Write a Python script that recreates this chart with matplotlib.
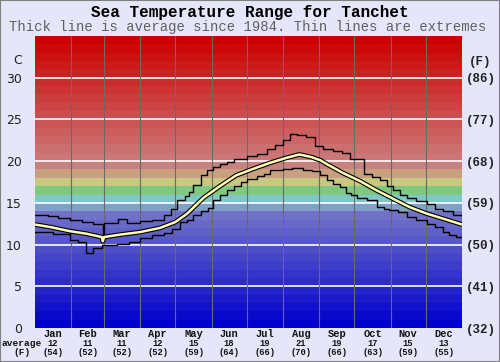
import matplotlib
matplotlib.use('Agg')
import matplotlib.pyplot as plt
import matplotlib.transforms as mtrans
from matplotlib.patches import Rectangle
import numpy as np

# ---------------- data ----------------
months = ['Jan', 'Feb', 'Mar', 'Apr', 'May', 'Jun', 'Jul', 'Aug', 'Sep', 'Oct', 'Nov', 'Dec']
month_days = [31, 28, 31, 30, 31, 30, 31, 31, 30, 31, 30, 31]
avg_c = [12, 11, 11, 12, 15, 18, 19, 21, 19, 17, 15, 13]
avg_f = [54, 52, 52, 52, 59, 64, 66, 70, 66, 63, 59, 55]
c_ticks = [0, 5, 10, 15, 20, 25, 30]
f_labels = ['(32)', '(41)', '(50)', '(59)', '(68)', '(77)', '(86)']

avg_day = [0, 13, 30, 44, 57, 58, 59, 73, 90, 107, 120, 130, 144, 158, 172, 187, 201, 215, 226, 236,
           244, 250, 263, 278, 292, 306, 320, 335, 349, 365]
avg_temp = [12.4, 12.1, 11.6, 11.3, 10.9, 10.4, 10.9, 11.2, 11.5, 12.0, 12.7, 13.7, 15.6, 17.0, 18.3,
            19.1, 19.8, 20.4, 20.8, 20.5, 20.1, 19.6, 18.6, 17.6, 16.5, 15.5, 14.5, 13.7, 13.1, 12.4]

max_day = [0, 11, 20, 30, 40, 50, 58, 58.6, 71, 79, 90, 100, 110, 116, 121, 128, 132, 135, 142, 147,
           152, 158, 164, 170, 181, 190, 198, 205, 212, 218, 224, 232, 239, 246, 255, 262, 269, 281,
           288, 295, 301, 306, 312, 318, 326, 335, 342, 349, 357, 365]
max_temp = [13.6, 13.4, 13.2, 12.9, 12.7, 12.5, 10.5, 12.6, 13.1, 12.6, 12.8, 13.0, 13.5, 14.3, 15.3,
            15.8, 16.3, 17.1, 18.3, 18.9, 19.3, 19.6, 19.9, 20.3, 20.6, 20.9, 21.5, 21.9, 22.5, 23.3,
            23.1, 22.9, 21.8, 21.5, 21.2, 21.0, 20.2, 18.5, 18.1, 17.7, 17.0, 16.5, 16.0, 15.6, 15.2,
            14.9, 14.3, 14.0, 13.6, 13.3]

min_day = [0, 15, 30, 37, 44, 50, 57, 70, 80, 90, 100, 110, 117, 124, 130, 135, 142, 148, 152, 158,
           164, 170, 176, 181, 190, 196, 201, 212, 220, 229, 237, 244, 250, 255, 261, 266, 270, 275,
           284, 292, 298, 303, 310, 318, 326, 335, 342, 349, 354, 360, 365]
min_temp = [11.5, 11.3, 10.6, 10.3, 9.0, 9.6, 9.9, 10.1, 10.3, 10.8, 11.1, 11.4, 11.9, 12.7, 13.0,
            13.6, 14.0, 14.4, 15.3, 15.9, 16.5, 17.0, 17.5, 17.9, 18.2, 18.5, 18.9, 19.0, 19.2, 18.9,
            18.8, 18.3, 17.7, 17.3, 16.9, 16.2, 15.9, 15.6, 15.3, 14.5, 14.3, 14.1, 13.9, 13.3, 12.9,
            12.5, 12.1, 11.5, 11.2, 10.9, 10.9]

# ---------------- style helpers ----------------
def band_color(t):
    if t >= 20:
        g = 128 * (34 - t) / 15.0
        g = max(g, 0)
        return (204 / 255, g / 255, g / 255)
    special = {19: (200, 128, 128), 18: (200, 160, 128), 17: (200, 200, 128),
               16: (128, 200, 128), 15: (128, 200, 200), 14: (128, 160, 200)}
    if t in special:
        r, g, b = special[t]
        return (r / 255, g / 255, b / 255)
    v = 8.7 * t
    return (v / 255, v / 255, (204 - 0.3 * t) / 255)

W, H = 500, 362
fig = plt.figure(figsize=(W / 100, H / 100), dpi=100)
bg = '#e6e6fa'
fig.patch.set_facecolor(bg)

L, R, T, B = 35, 462, 36, 328
ax = fig.add_axes([L / W, 1 - B / H, (R - L) / W, (B - T) / H])
ax.set_xlim(0, 365)
ax.set_ylim(0, 35)

for t in range(0, 35):
    ax.axhspan(t, t + 1, color=band_color(t), lw=0, zorder=0)

for c in c_ticks[1:]:
    ax.axhline(c, color='white', lw=1.2, zorder=1)

edges = np.cumsum(month_days)
for e in edges[:-1]:
    ax.axvline(e, color='#6a6a6a', lw=0.8, zorder=1)

ax.step(max_day, max_temp, where='post', color='black', lw=1.0, zorder=3)
ax.step(min_day, min_temp, where='post', color='black', lw=1.0, zorder=3)
ax.plot(avg_day, avg_temp, color='black', lw=3.4, zorder=4, solid_capstyle='butt')
ax.plot(avg_day, avg_temp, color='#ffffb4', lw=1.8, zorder=5, solid_capstyle='butt')

for s in ax.spines.values():
    s.set_visible(False)
ax.set_xticks([])
ax.set_yticks(c_ticks)
ax.set_yticklabels([str(c) for c in c_ticks], fontsize=9, family='DejaVu Sans', color='#222222')
ax.tick_params(axis='y', length=0, pad=9.5)

ax2 = ax.twinx()
ax2.set_ylim(0, 35)
ax2.set_yticks(c_ticks)
ax2.set_yticklabels(f_labels, fontsize=9, family='Liberation Mono', weight='bold', color='#222222')
ax2.tick_params(axis='y', length=0, pad=3)
for s in ax2.spines.values():
    s.set_visible(False)

mono = 'Liberation Mono'
fig.text(250 / W, 1 - 12 / H, 'Sea Temperature Range for Tanchet', ha='center', va='center',
         family=mono, weight='bold', fontsize=11.5, color='black')
fig.text(248 / W, 1 - 27 / H, 'Thick line is average since 1984. Thin lines are extremes',
         ha='center', va='center', family=mono, fontsize=10, color='#606060')
fig.text(18 / W, 1 - 61 / H, 'C', ha='center', va='center', family='DejaVu Sans',
         fontsize=9, color='#222222')
fig.text(480 / W, 1 - 62 / H, '(F)', ha='center', va='center', family=mono, weight='bold',
         fontsize=9, color='#222222')

trans = mtrans.blended_transform_factory(ax.transData, fig.transFigure)
starts = np.concatenate([[0], edges[:-1]])
mids = starts + np.array(month_days) / 2.0
for m, x, c, f in zip(months, mids, avg_c, avg_f):
    ax.text(x, 1 - 337.3 / H, m, transform=trans, ha='center', va='baseline', family=mono,
            weight='bold', fontsize=7.5, color='#111111', clip_on=False)
    ax.text(x, 1 - 346 / H, str(c), transform=trans, ha='center', va='baseline', family=mono,
            weight='bold', fontsize=6.3, color='#111111', clip_on=False)
    ax.text(x, 1 - 355 / H, '(%d)' % f, transform=trans, ha='center', va='baseline', family=mono,
            weight='bold', fontsize=6.3, color='#111111', clip_on=False)
fig.text(22 / W, 1 - 346 / H, 'average', ha='center', va='baseline', family=mono, weight='bold',
         fontsize=6.8, color='#111111')
fig.text(22 / W, 1 - 355 / H, '(F)', ha='center', va='baseline', family=mono, weight='bold',
         fontsize=6.8, color='#111111')

fig.patches.append(Rectangle((0, 0), 1, 1, transform=fig.transFigure, fill=False,
                             edgecolor='#808080', lw=1.5))

fig.savefig('out.png', dpi=100, facecolor=bg)
